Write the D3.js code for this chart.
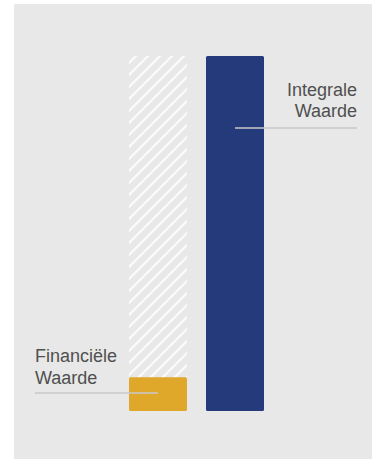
<!DOCTYPE html>
<html>
<head>
<meta charset="utf-8">
<script src="https://cdn.jsdelivr.net/npm/d3@7"></script>
<style>
  html, body { margin: 0; padding: 0; background: #ffffff; }
  svg { display: block; }
</style>
</head>
<body>
<svg id="chart" width="372" height="459"></svg>
<script>
// Categories and their values (share of integral value, %)
const categories = ["Financiële Waarde", "Integrale Waarde"];
const values = [9.5, 100];
const labelLines = [["Financiële", "Waarde"], ["Integrale", "Waarde"]];
const colors = ["#e0a82b", "#243a7a"];

const svg = d3.select("#chart");
const W = 372, H = 459;

// light grey panel
svg.append("rect")
  .attr("x", 14).attr("y", 4)
  .attr("width", W - 14).attr("height", H - 4)
  .attr("fill", "#e8e8e8");

// diagonal hatch pattern for the unrealised part
const defs = svg.append("defs");
const pat = defs.append("pattern")
  .attr("id", "hatch")
  .attr("patternUnits", "userSpaceOnUse")
  .attr("width", 12).attr("height", 12);
pat.append("path")
  .attr("d", "M0,12 L12,0 M-3,3 L3,-3 M9,15 L15,9")
  .attr("stroke", "#fbfbfb")
  .attr("stroke-width", 2.2)
  .attr("stroke-linecap", "square");

const x = d3.scaleBand()
  .domain(categories)
  .range([129, 264])
  .paddingInner(0.247)
  .paddingOuter(0);

const y = d3.scaleLinear()
  .domain([0, d3.max(values)])
  .range([411, 56]);

// hatched background bar at the financial position, up to the integral value
svg.append("rect")
  .attr("x", x(categories[0]))
  .attr("y", y(values[1]))
  .attr("width", x.bandwidth())
  .attr("height", y(values[0]) - y(values[1]))
  .attr("fill", "url(#hatch)");

// value bars
svg.selectAll("rect.bar")
  .data(categories)
  .join("rect")
  .attr("class", "bar")
  .attr("x", d => x(d))
  .attr("y", (d, i) => y(values[i]))
  .attr("width", x.bandwidth())
  .attr("height", (d, i) => y(0) - y(values[i]))
  .attr("rx", 1.5)
  .attr("fill", (d, i) => colors[i]);

// leader lines
const lineColor = "#c8c8cb";
// integral: from inside the bar towards the right label
svg.append("line")
  .attr("x1", x(categories[1]) + 29).attr("x2", 357)
  .attr("y1", 128).attr("y2", 128)
  .attr("stroke", lineColor).attr("stroke-width", 1.5);
// financial: from the left label into the gold bar
svg.append("line")
  .attr("x1", 35).attr("x2", x(categories[0]) + 29)
  .attr("y1", 393).attr("y2", 393)
  .attr("stroke", lineColor).attr("stroke-width", 1.5);

const font = "'Liberation Sans', Arial, Helvetica, sans-serif";

// labels
const finLabel = svg.append("text")
  .attr("font-family", font).attr("font-size", 18)
  .attr("fill", "#4f4f4f");
labelLines[0].forEach((t, i) => {
  finLabel.append("tspan").attr("x", 35).attr("y", 362 + i * 21.5).text(t);
});

const intLabel = svg.append("text")
  .attr("font-family", font).attr("font-size", 18)
  .attr("fill", "#4f4f4f")
  .attr("text-anchor", "end");
labelLines[1].forEach((t, i) => {
  intLabel.append("tspan").attr("x", 357).attr("y", 96 + i * 20.5).text(t);
});
</script>
</body>
</html>
